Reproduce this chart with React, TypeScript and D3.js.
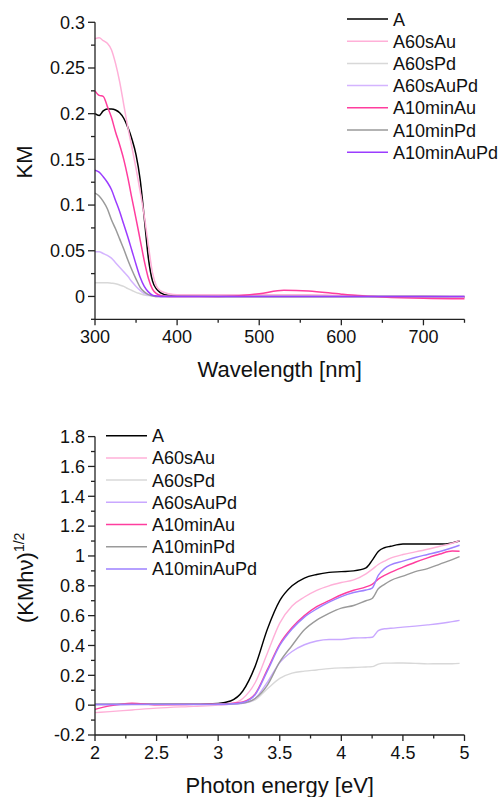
import { useEffect, useRef } from 'react'
import * as d3 from 'd3'

const W = 502, H = 797
const FONT = 'Liberation Sans, Arial, sans-serif'

// legend / series names (same order in both panels)
const seriesNames = ['A', 'A60sAu', 'A60sPd', 'A60sAuPd', 'A10minAu', 'A10minPd', 'A10minAuPd']

// ---- top panel: KM vs wavelength ----
const wavelength = [300, 305, 310, 315, 320, 325, 330, 335, 340, 345, 350, 355, 360, 365, 370, 375, 380, 390, 400, 450, 470, 500, 530, 560, 600, 620, 650, 700, 750]
const kmA          = [0.200, 0.198, 0.203, 0.205, 0.205, 0.204, 0.201, 0.195, 0.185, 0.172, 0.155, 0.128, 0.086, 0.042, 0.017, 0.008, 0.004, 0.001, 0.0005, 0, 0, 0, 0, 0, 0, 0, 0, 0, -0.0005]
const kmA60sAu     = [0.282, 0.283, 0.280, 0.277, 0.270, 0.255, 0.235, 0.210, 0.185, 0.163, 0.140, 0.115, 0.088, 0.056, 0.026, 0.011, 0.006, 0.003, 0.002, 0.002, 0.002, 0.002, 0.002, 0.002, 0.001, 0.001, 0, 0, -0.001]
const kmA60sPd     = [0.015, 0.015, 0.015, 0.015, 0.0145, 0.014, 0.0125, 0.011, 0.0085, 0.0065, 0.0045, 0.003, 0.0015, 0.001, 0.0005, 0, 0, 0, 0, 0, 0, 0, 0, 0, 0, 0, 0, 0, 0]
const kmA60sAuPd   = [0.049, 0.049, 0.047, 0.045, 0.042, 0.037, 0.032, 0.027, 0.022, 0.016, 0.011, 0.0066, 0.003, 0.0015, 0.0005, 0, 0, 0, 0, 0, 0, 0, 0, 0, 0, 0, 0, 0, 0]
const kmA10minAu   = [0.225, 0.220, 0.219, 0.208, 0.196, 0.180, 0.166, 0.150, 0.130, 0.107, 0.085, 0.062, 0.039, 0.020, 0.008, 0.003, 0.001, 0, 0, 0, 0.0005, 0.003, 0.0068, 0.006, 0.0025, 0.001, -0.0005, -0.002, -0.0026]
const kmA10minPd   = [0.113, 0.110, 0.104, 0.096, 0.084, 0.074, 0.063, 0.052, 0.040, 0.029, 0.019, 0.010, 0.005, 0.002, 0.0008, 0, 0, 0, 0, 0, 0, 0, 0, 0, 0, 0, 0, 0, 0]
const kmA10minAuPd = [0.138, 0.136, 0.131, 0.125, 0.117, 0.105, 0.093, 0.079, 0.065, 0.050, 0.035, 0.021, 0.011, 0.005, 0.0015, 0.0005, 0, 0, 0, 0, 0, 0, 0, 0, 0, 0, 0, 0, 0]
const topSeries = [kmA, kmA60sAu, kmA60sPd, kmA60sAuPd, kmA10minAu, kmA10minPd, kmA10minAuPd]
const topXTicks = [300, 400, 500, 600, 700]
const topXMinor = [350, 450, 550, 650, 750]
const topYTicks = [0, 0.05, 0.1, 0.15, 0.2, 0.25, 0.3]
const topYMinor = [-0.025, 0.025, 0.075, 0.125, 0.175, 0.225, 0.275]

// ---- bottom panel: (KMhv)^1/2 vs photon energy ----
const energy = [2.0, 2.12, 2.3, 2.5, 2.8, 3.0, 3.1, 3.2, 3.3, 3.4, 3.5, 3.6, 3.7, 3.8, 3.9, 4.0, 4.1, 4.2, 4.25, 4.3, 4.35, 4.4, 4.5, 4.6, 4.7, 4.8, 4.9, 4.96]
const tA          = [0.005, 0.005, 0.006, 0.006, 0.007, 0.012, 0.028, 0.095, 0.26, 0.51, 0.70, 0.80, 0.852, 0.876, 0.89, 0.895, 0.90, 0.92, 0.97, 1.03, 1.055, 1.065, 1.08, 1.08, 1.08, 1.08, 1.088, 1.10]
const tA60sAu     = [-0.05, -0.043, -0.032, -0.02, -0.008, 0.0, 0.008, 0.045, 0.15, 0.35, 0.55, 0.665, 0.725, 0.77, 0.80, 0.822, 0.84, 0.88, 0.91, 0.943, 0.965, 0.985, 1.01, 1.027, 1.045, 1.065, 1.085, 1.103]
const tA60sPd     = [0.003, 0.003, 0.004, 0.004, 0.004, 0.005, 0.006, 0.012, 0.035, 0.11, 0.18, 0.215, 0.228, 0.236, 0.245, 0.25, 0.252, 0.256, 0.258, 0.275, 0.282, 0.282, 0.283, 0.28, 0.277, 0.278, 0.278, 0.28]
const tA60sAuPd   = [0.004, 0.004, 0.004, 0.004, 0.004, 0.004, 0.006, 0.012, 0.045, 0.155, 0.285, 0.36, 0.405, 0.43, 0.44, 0.44, 0.45, 0.452, 0.455, 0.50, 0.512, 0.515, 0.523, 0.53, 0.538, 0.547, 0.56, 0.568]
const tA10minAu   = [-0.028, -0.005, 0.013, 0.003, 0.005, 0.008, 0.012, 0.022, 0.075, 0.24, 0.41, 0.52, 0.60, 0.66, 0.70, 0.74, 0.77, 0.793, 0.81, 0.845, 0.87, 0.89, 0.925, 0.958, 0.987, 1.013, 1.033, 1.032]
const tA10minPd   = [0.005, 0.005, 0.005, 0.005, 0.005, 0.006, 0.008, 0.014, 0.045, 0.135, 0.29, 0.40, 0.505, 0.57, 0.615, 0.65, 0.668, 0.70, 0.715, 0.78, 0.81, 0.835, 0.865, 0.895, 0.915, 0.945, 0.975, 0.996]
const tA10minAuPd = [0.004, 0.004, 0.005, 0.005, 0.005, 0.006, 0.008, 0.018, 0.07, 0.23, 0.40, 0.51, 0.59, 0.645, 0.69, 0.728, 0.755, 0.772, 0.785, 0.87, 0.915, 0.94, 0.965, 0.99, 1.01, 1.03, 1.055, 1.072]
const botSeries = [tA, tA60sAu, tA60sPd, tA60sAuPd, tA10minAu, tA10minPd, tA10minAuPd]
const botXTicks = [2, 2.5, 3, 3.5, 4, 4.5, 5]
const botXMinor = [2.25, 2.75, 3.25, 3.75, 4.25, 4.75]
const botYTicks = [-0.2, 0, 0.2, 0.4, 0.6, 0.8, 1, 1.2, 1.4, 1.6, 1.8]
const botYMinor = [-0.1, 0.1, 0.3, 0.5, 0.7, 0.9, 1.1, 1.3, 1.5, 1.7]

const topColors = ['#000000', '#ffb0d8', '#d8d8d8', '#d4b4ff', '#ff3d9e', '#9a9a9a', '#9b3cff']
const botColors = ['#000000', '#ffb0d8', '#d8d8d8', '#c9a8ff', '#ff3d9e', '#9a9a9a', '#9d80ff']

type Panel = {
  xs: number[]; series: number[][]; colors: string[]
  xDomain: [number, number]; yDomain: [number, number]
  top: number; bottom: number
  xTicks: number[]; xMinor: number[]; yTicks: number[]; yMinor: number[]
  xFmt: (v: number) => string; yFmt: (v: number) => string
  xTitle: string
  legend: { x: number; y: number }
  lw: number
}

function drawPanel(svg: d3.Selection<SVGSVGElement, unknown, null, undefined>, p: Panel) {
  const left = 95, right = 464.5
  const x = d3.scaleLinear().domain(p.xDomain).range([left, right])
  const y = d3.scaleLinear().domain(p.yDomain).range([p.bottom, p.top])
  const g = svg.append('g')

  // curves
  const line = d3.line<number>().x((_, i) => x(p.xs[i])).y(v => y(v)).curve(d3.curveMonotoneX)
  p.series.forEach((s, k) => {
    g.append('path').datum(s)
      .attr('fill', 'none').attr('stroke', p.colors[k])
      .attr('stroke-width', p.lw).attr('stroke-linejoin', 'round')
      .attr('d', line)
  })

  // axes
  const ax = g.append('g').attr('stroke', '#222').attr('stroke-width', 1.3)
  ax.append('line').attr('x1', left).attr('x2', left).attr('y1', p.bottom).attr('y2', p.top)
  ax.append('line').attr('x1', left).attr('x2', right).attr('y1', p.bottom).attr('y2', p.bottom)
  p.yTicks.forEach(v => ax.append('line').attr('x1', left - 7).attr('x2', left).attr('y1', y(v)).attr('y2', y(v)))
  p.yMinor.forEach(v => ax.append('line').attr('x1', left - 4).attr('x2', left).attr('y1', y(v)).attr('y2', y(v)))
  p.xTicks.forEach(v => ax.append('line').attr('x1', x(v)).attr('x2', x(v)).attr('y1', p.bottom).attr('y2', p.bottom + 6))
  p.xMinor.forEach(v => ax.append('line').attr('x1', x(v)).attr('x2', x(v)).attr('y1', p.bottom).attr('y2', p.bottom + 3.5))

  const lbl = g.append('g').attr('font-family', FONT).attr('font-size', 18).attr('fill', '#111')
  p.yTicks.forEach(v => lbl.append('text').attr('x', left - 10).attr('y', y(v) + 6.3)
    .attr('text-anchor', 'end').text(p.yFmt(v)))
  p.xTicks.forEach(v => lbl.append('text').attr('x', x(v)).attr('y', p.bottom + 24)
    .attr('text-anchor', 'middle').text(p.xFmt(v)))

  g.append('text').attr('x', (left + right) / 2).attr('y', p.bottom + 58)
    .attr('text-anchor', 'middle').attr('font-family', FONT).attr('font-size', 22).attr('fill', '#111')
    .text(p.xTitle)

  // legend
  const lg = g.append('g').attr('font-family', FONT).attr('font-size', 18).attr('fill', '#111')
  seriesNames.forEach((name, k) => {
    const ry = p.legend.y + k * 22.2
    lg.append('line').attr('x1', p.legend.x).attr('x2', p.legend.x + 41).attr('y1', ry).attr('y2', ry)
      .attr('stroke', p.colors[k]).attr('stroke-width', 1.5)
    lg.append('text').attr('x', p.legend.x + 46).attr('y', ry + 6.5).text(name)
  })
}

const fmt = (v: number) => String(+v.toFixed(3))

export default function App() {
  const ref = useRef<SVGSVGElement>(null)

  useEffect(() => {
    const svg = d3.select(ref.current!)
    svg.selectAll('*').remove()
    svg.append('rect').attr('width', W).attr('height', H).attr('fill', '#fff')

    drawPanel(svg, {
      xs: wavelength, series: topSeries, colors: topColors,
      xDomain: [300, 750], yDomain: [-0.025, 0.3], top: 22.3, bottom: 319.3,
      xTicks: topXTicks, xMinor: topXMinor, yTicks: topYTicks, yMinor: topYMinor,
      xFmt: fmt, yFmt: fmt, xTitle: 'Wavelength [nm]',
      legend: { x: 347, y: 19 }, lw: 1.5,
    })
    svg.append('text').attr('transform', 'translate(32,162) rotate(-90)')
      .attr('text-anchor', 'middle').attr('font-family', FONT).attr('font-size', 22).attr('fill', '#111')
      .text('KM')

    drawPanel(svg, {
      xs: energy, series: botSeries, colors: botColors,
      xDomain: [2, 5], yDomain: [-0.2, 1.8], top: 436.6, bottom: 735,
      xTicks: botXTicks, xMinor: botXMinor, yTicks: botYTicks, yMinor: botYMinor,
      xFmt: fmt, yFmt: fmt, xTitle: 'Photon energy [eV]',
      legend: { x: 106, y: 435.7 }, lw: 1.4,
    })
    const yl = svg.append('text').attr('transform', 'translate(33,623) rotate(-90)')
      .attr('font-family', FONT).attr('font-size', 22).attr('fill', '#111')
    yl.append('tspan').text('(KMhν)')
    yl.append('tspan').attr('font-size', 14).attr('dy', -9).text('1/2')
  }, [])

  return (
    <svg ref={ref} width={W} height={H} viewBox={`0 0 ${W} ${H}`}
      style={{ position: 'absolute', left: 0, top: 0 }} />
  )
}
